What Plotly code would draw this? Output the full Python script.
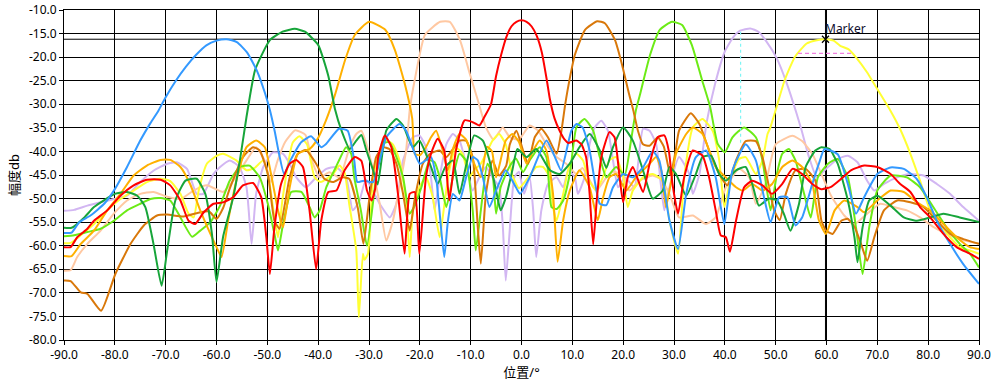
import plotly.graph_objects as go

# ---------------- data ----------------
blue_x = [-90,-88.5,-87,-84.8,-82,-80,-77.6,-75,-73,-71.4,-70,-68,-66,-64,-62,-60,-58,-56,-54,-52,-50.5,-49.5,-48.5,-47.7,-46.7,-45.5,-43.3,-41.4,-39.4,-38.5,-35.9,-34.2,-32.9,-32.3,-31,-29.2,-26.6,-24,-22.7,-20,-17.8,-16.8,-15.2,-14.5,-13.5,-12.2,-10.9,-9.6,-8.6,-7.6,-6.3,-5,-3.1,-1.1,-0.3,1.6,4.9,6.5,7.8,9.8,10.8,12,13.4,15.4,16.7,18,20,21.9,23.9,25.8,27.1,29.1,30.8,32.4,34.3,36.3,38.2,39.9,41.5,44.1,46.1,47.7,49,50.7,52.3,53.9,55.2,57.2,58.5,59.6,62.2,64.2,65.8,67.4,70,72.6,75.2,77.8,79.7,81.7,84.3,86.9,90]
blue_y = [-57.3,-57.2,-55,-53.6,-51,-48,-43.3,-37.7,-34,-31.3,-28.5,-25,-22,-19.5,-17.5,-16.5,-16.2,-16.8,-19,-23,-27.5,-31.2,-36,-40.5,-44.8,-42,-38,-36.8,-39.1,-38.5,-35.2,-35.6,-41.9,-46.5,-46.2,-46.5,-37,-34.2,-35.6,-42.6,-41.2,-45.5,-62.4,-55,-49,-50.4,-45.5,-41.2,-41.9,-45.5,-51.8,-48.3,-44,-47.6,-49,-45.5,-37.7,-41,-44,-35.6,-34.2,-34.9,-39.8,-51.1,-51.4,-47.6,-44.8,-45.5,-43.4,-39.9,-41.9,-54.6,-60.7,-49,-41.2,-39.8,-45.5,-55.4,-44,-38.5,-41.9,-49.7,-55,-49.7,-49.7,-55.7,-54,-46.9,-42.6,-39.5,-40.6,-46.9,-53.2,-49.7,-44.8,-43.4,-43.7,-45.9,-49.7,-54.7,-59.6,-63.9,-68.1]

green_x = [-90,-88.5,-86,-84.1,-80,-77.6,-75.6,-74,-72.4,-70.8,-69.7,-68.1,-66.1,-63.9,-62.2,-60.9,-60,-58.7,-56.7,-55.4,-54.1,-52.4,-49.5,-47,-44.6,-42.6,-40,-38,-36.7,-35.4,-33.8,-32.5,-31.5,-30.5,-29.2,-28.3,-26.6,-24.6,-23.3,-21.4,-20.1,-18.8,-17.8,-16.5,-15,-13.5,-12.2,-10.9,-9.3,-7.6,-6.3,-5,-4.1,-3,-1.8,-0.8,1,2.9,5.6,7.5,9.5,11.4,13.4,15.4,16.7,18,20,21.9,23.9,25.8,27.8,29.1,30.4,32.4,34.3,35.6,37.3,38.9,40.2,42.2,44.1,45.4,46.7,48.7,50.3,51.6,52.9,54.6,55.9,57.8,59,60.6,62.2,64.2,65.5,66.1,67.1,68.4,70,72.6,75.2,77.8,80.4,83,86.2,90]
green_y = [-56.2,-56.2,-54,-51.8,-49,-48.6,-49.4,-51.8,-59.6,-68.5,-61,-50.4,-46.2,-45.8,-49,-57.5,-67.7,-58.1,-49.7,-41.9,-32.7,-22.7,-16.4,-14.6,-14,-14.6,-17.4,-24,-31,-35.6,-39.5,-37.7,-36.5,-39.8,-44,-47,-35.6,-33.1,-34.5,-39.1,-37.7,-40.5,-43.3,-46.9,-43.3,-41.9,-49,-43,-36.6,-37.7,-41.9,-48.3,-52.5,-49.5,-44,-39.5,-41.2,-39.5,-44,-44.8,-42.6,-39.1,-36.3,-39.8,-43.5,-39.1,-34.9,-37.7,-44,-50,-48.3,-43.3,-44.8,-49.4,-44.8,-41.2,-40.9,-44.8,-46.2,-44,-43.3,-46.9,-51.5,-50,-50.4,-53.2,-56.8,-51.1,-43.3,-39.8,-39.1,-39.5,-42.6,-50.4,-58.2,-63.5,-56.1,-50.4,-49.4,-51.5,-54,-54.7,-54,-53.2,-54,-55]

orange_x = [-90,-88.5,-86.7,-84.1,-81.5,-78.9,-76.3,-73.7,-71,-69.1,-67.1,-65.2,-63.2,-61.2,-59.9,-59,-57.7,-56.1,-54.1,-52.2,-50.5,-48.9,-47.9,-46.9,-45.6,-44,-41.7,-40.2,-38.5,-36.7,-34.7,-32.8,-30,-26.8,-24.9,-22.9,-21.5,-21,-20,-18.8,-17.8,-16.8,-15.5,-14.5,-13.5,-12.2,-10.9,-9.3,-8,-6.8,-5.8,-5,-3.1,-1.8,-0.5,1,2.3,3.6,4.9,6.2,7.1,8.2,9.5,11.4,13.4,15,16,17.3,18.6,20.6,22.5,25.2,26.5,27.5,28.4,29.5,30.4,32.4,33.7,35.6,38.2,40.2,42.2,43.5,45.4,47.4,49.3,51.3,53.3,55.2,57.2,58.5,59.9,61.6,63.5,66.1,67.4,70,72.6,75.2,77.8,80.4,83,85.6,88.2,90]
orange_y = [-62.2,-62.2,-59.6,-56.8,-52.5,-49,-45.1,-43,-41.8,-41.8,-43.3,-46.9,-52.5,-57.5,-60.5,-62.4,-54.6,-46.2,-39.1,-37.7,-39.1,-46.9,-52.5,-56.1,-47.6,-40.5,-39.5,-37.5,-33.5,-28,-20.6,-15.3,-12.5,-14.2,-18.5,-25.9,-33,-40.5,-40.8,-39.1,-37,-35.6,-39.8,-44,-39.5,-36.3,-37.5,-42.6,-45.5,-39,-40,-45.5,-37.7,-36.3,-38,-42.6,-39.8,-37.7,-39.8,-49,-63.4,-54.6,-48.3,-44,-47.6,-54.6,-50,-45.5,-44.8,-48.3,-45.5,-42.6,-41.2,-44,-51.8,-46,-40.5,-36.3,-34.9,-36.3,-43.3,-45.5,-47.6,-48.3,-46.9,-48.3,-46.9,-43.3,-41.9,-43.3,-46.9,-54.6,-57.5,-52.5,-50.4,-51.8,-52.9,-50.4,-48.3,-48.6,-50.8,-52.5,-55.4,-58.2,-60.3,-60.7]

peach_x = [-90,-88.7,-87.4,-85.4,-82.8,-80.2,-77.6,-75,-72.4,-69.7,-67.1,-64.5,-61.9,-60.5,-58.7,-56.7,-54.1,-52.2,-50.5,-49.3,-48,-46.5,-44.5,-42.5,-41.2,-39.7,-37.8,-35.8,-33.8,-32.5,-31.5,-30.5,-29.2,-27.9,-26.6,-25.3,-24,-22.7,-22,-21,-19,-16,-14.1,-12.1,-10.1,-8.6,-7,-5.5,-3.7,-2.3,-0.5,1.6,3.2,4.9,6.9,8.8,10.8,12,14.7,16.7,18,20,21.2,23.2,25.8,27.5,29.1,31,33.7,36.3,38.2,40.2,42.8,44.8,46.1,48,50,53.3,55.2,57.2,59,60.9,63.5,65.5,68,70.6,73.2,75.8,78.4,81,83.6,86.2,90]
peach_y = [-65.3,-65.2,-62.4,-59.6,-56.8,-53.2,-50.4,-49,-48.6,-49.6,-50.1,-48.3,-47.2,-47.8,-48.6,-46.2,-41.9,-39.1,-42,-46.5,-42,-38,-35.5,-36.5,-42,-45.5,-44.4,-45.5,-39.1,-36.3,-35.6,-38.5,-44,-51.1,-58.9,-54.7,-47.6,-39.8,-31.3,-24.8,-15.3,-12.5,-12.5,-16.4,-23.8,-29.1,-34.9,-37.5,-34.9,-37,-37.5,-34.5,-35.5,-38.5,-41.2,-42.6,-44.8,-43.5,-48.3,-45.5,-44.3,-45.1,-48.3,-46.2,-45.1,-46,-49,-54,-53.6,-55.4,-54,-47.6,-43.7,-45.5,-51.1,-46.9,-38.5,-36.7,-37.8,-40.5,-44.8,-49.4,-53.6,-55.4,-53.2,-51.1,-51.8,-52.5,-54,-56,-57.5,-58.6,-59.6]

red_x = [-90,-88.7,-87.4,-85.4,-84.1,-81.5,-78.9,-76.3,-73.7,-71,-69.1,-67.1,-65.5,-64.2,-62.5,-60.6,-58.7,-56.7,-54.8,-52.8,-51.2,-50.2,-49.5,-48.6,-47.3,-45.6,-44.3,-43,-41.7,-40.4,-39.4,-38,-36.4,-34.8,-32.8,-31.5,-30.4,-29.5,-28.8,-28.2,-26.9,-25.6,-24.3,-23,-22,-21,-20.1,-18.8,-17.8,-16.5,-15.2,-14.2,-12.9,-11.2,-9.6,-8.3,-7.3,-6,-5,-4,-3,-2,-1,0,1,2,3,4,5,5.6,6.5,7.5,8.5,9.2,10.8,11.8,12.7,13.4,14.1,14.8,15.7,17.3,18.3,19.3,20,20.9,21.9,23.9,25.2,26.8,28.1,29,29.7,30.8,32,33.7,35.6,36.9,38.2,39.2,40.2,41,42.2,43.8,45.4,47.4,49.3,51.3,53.3,55.2,57.2,59,60.9,62.9,64.8,67.4,70,72.6,74.5,76.5,78.4,80.4,83,85.6,88.2,90]
red_y = [-60.3,-60.3,-58.2,-56.4,-54.7,-52.5,-49.4,-47.2,-46,-46,-47.2,-50.4,-54.7,-55.4,-52.9,-51.1,-50.8,-49.7,-47.2,-46.7,-49.7,-58.2,-66,-56.1,-46.9,-42.6,-41.8,-43.3,-52.5,-65,-54.7,-48.6,-48.3,-44,-41.2,-42,-48.3,-50.4,-48,-41.2,-36.6,-39.1,-49,-61.7,-49,-48.6,-61.7,-45.5,-40.5,-37.3,-39.8,-50.4,-39.8,-33.4,-33.8,-34.5,-32.7,-30,-24,-19.5,-15.8,-13.5,-12.5,-12.2,-12.5,-13.5,-15.5,-19,-25,-29,-33,-35.6,-37.5,-38.2,-37.7,-38.5,-41.2,-49,-59.7,-50.4,-41.2,-35.9,-37,-45.5,-50.8,-45.5,-43.3,-48.6,-42.6,-37,-36.6,-40,-46.9,-53.2,-45.5,-39.8,-40.9,-45.5,-52.5,-57.8,-58.2,-61.3,-54.7,-47.6,-46.2,-47.2,-49,-46.9,-43.7,-44.8,-46.9,-48,-47.5,-45.8,-44,-43,-43.3,-44.8,-46.9,-48.6,-51.8,-54,-57.5,-60.3,-61.7,-62.8]

brown_x = [-90,-88.7,-86.7,-85.4,-82.7,-79.9,-76.9,-74.3,-71.7,-69.7,-66.5,-63.2,-61.5,-60,-58.7,-57.4,-54.8,-52.8,-51.5,-49.9,-48.6,-47.6,-45.6,-44,-42.4,-40.4,-38.8,-37.1,-35.2,-33.9,-32.2,-31.1,-29.9,-28.6,-27.3,-26,-24.6,-23.3,-22,-21,-19.4,-18,-16.1,-14.8,-13.5,-12.2,-10.9,-9.6,-8.6,-8,-7,-5.7,-4.4,-3,-2.3,-1,0.3,1.3,2.6,3.9,5.2,6.9,7.8,8.6,9.5,10.5,12.5,14.9,16.4,18.4,19.8,21.2,22,22.9,23.9,25.2,26.8,28,29.3,30.3,31,33.3,35,36.9,38.9,40.5,42.2,44.1,46.1,47.4,48.7,49.7,50.8,52,53.9,55.9,57.8,59,59.9,61.2,62.9,64.2,65.5,66.8,68,69.4,71.3,73.9,76.5,79.1,81.7,84.3,86.9,90]
brown_y = [-67.4,-67.5,-69.9,-70.2,-73.8,-66,-59.6,-55.7,-53.6,-53.4,-53.8,-52.9,-52.7,-54.3,-52,-47.9,-41.2,-39.1,-39.8,-44.8,-54.7,-56.4,-45.5,-40.5,-39.7,-42.6,-45.8,-46.5,-45.5,-45.8,-52,-59.6,-49.7,-41.2,-39.1,-39.5,-42.6,-49,-56.8,-50,-42.6,-40.5,-39.8,-41.2,-39.5,-37.7,-37.7,-41.2,-56,-63.8,-49,-41.9,-45.1,-43,-38.5,-35.6,-39.8,-42.6,-37,-35.2,-37,-40.5,-36,-30,-24.5,-19.5,-14.2,-12.4,-12.8,-16.4,-21.7,-28,-31.3,-35.6,-38.5,-38.8,-37,-39,-45,-40,-35.6,-31.9,-34.2,-39.8,-44.8,-47.2,-41.9,-37.8,-37.8,-41.2,-47.6,-52.5,-54.6,-49,-44,-43.7,-46.2,-54.7,-56.8,-57.5,-54.7,-54.3,-56,-59.6,-63.2,-58.2,-52.5,-50.4,-50.8,-51.8,-54.7,-57.5,-58.6,-59.6]

lime_x = [-90,-88,-85.4,-82.8,-80.2,-77.6,-75,-73,-71,-69.1,-67.1,-64.8,-63.2,-61.2,-59.3,-57.4,-55.4,-53.5,-51.5,-49.9,-48.6,-47.9,-46.9,-45.3,-43.3,-41.7,-40.7,-39.7,-38.4,-36.5,-34.5,-33.5,-32.9,-31.6,-30.4,-28.6,-27.3,-26,-24.6,-23.3,-22,-21,-19.7,-18.1,-17.1,-16.1,-14.8,-13.5,-12.2,-10.9,-9.6,-9,-8,-6.7,-5.7,-5,-4.1,-2.4,-1.1,0.3,1.6,3.6,4.9,5.9,6.9,8.2,9.5,10.8,12.4,14.1,15.4,16.7,18.6,20.3,21.5,22.5,23.3,25.3,27.2,29.6,31.6,33.5,35.5,37.1,38.6,40,41.5,43.8,46.1,47.4,49,50.2,51.3,52.6,53.9,55.6,56.9,58.3,60.3,62.2,64.2,65.8,67.1,68.4,70,72.6,75.8,78.4,81,83.6,86.2,88.2,90]
lime_y = [-58,-57.8,-57.1,-56.4,-54.7,-52.5,-51.1,-50.1,-49.9,-50.4,-54,-58.1,-56.8,-55,-51.5,-46.2,-43.3,-43,-45.5,-51.1,-57.5,-61,-55.4,-48.6,-48.6,-51.8,-54,-52.5,-47.6,-43.3,-39.1,-40.5,-45.5,-52.5,-60,-45.5,-38.4,-38,-41.2,-45.5,-53.2,-51.5,-47.6,-41.9,-42.3,-45.5,-51.8,-45.5,-40.5,-42,-52.5,-61,-52.5,-42.6,-44.8,-53.2,-47.6,-43.3,-41.5,-44.4,-41.9,-39.1,-41.2,-51.8,-52.2,-50.4,-44.8,-34.9,-33.1,-35.6,-41.2,-45.5,-43.3,-45,-38,-31.3,-28,-19.5,-14.2,-12.5,-13.2,-17.4,-24.8,-30.5,-38.4,-40.2,-37,-34.9,-37,-41.9,-52.5,-45,-40.5,-39.5,-41.9,-49,-54,-45.5,-42.6,-41.6,-45.5,-56.1,-66,-56.1,-48.3,-45.1,-45.5,-47.6,-51.8,-56.1,-59.6,-61.7,-64.6]

lavender_x = [-90,-88,-85.4,-82.8,-80.2,-77.6,-75,-72.4,-69.7,-67.8,-65.8,-63.9,-62.6,-60.6,-59.3,-57.4,-55.5,-54.1,-53.1,-52.2,-50.8,-48.9,-46.9,-45.6,-44.3,-42.4,-40.4,-38.4,-36.5,-34.5,-33.2,-31.9,-30.6,-27.9,-25.9,-24.6,-23.3,-21.4,-20.1,-18.8,-17.8,-17.1,-16.1,-14.8,-13.5,-12.2,-10.9,-9.6,-8.3,-7,-5.7,-4.4,-3.7,-3.1,-2.4,-1.4,-0.5,0.5,1.6,2.3,2.9,3.9,5.2,6.9,8.2,9.2,10.5,11.1,12.4,13.4,14.4,15.7,17,18,19,20.3,22.2,23.9,25.2,26.5,27.4,28.1,29,31,33,33.7,35,36.4,38.1,40,41.7,43,45,46.6,48.2,50.2,52.2,54.1,55.1,56.5,58.1,60.3,62.2,64.2,66.1,68,69.4,71.3,73.9,76.5,79.1,81.7,84.3,86.9,90]
lavender_y = [-52.6,-52.4,-51.5,-50.8,-50.1,-49.4,-46.5,-44.1,-42.6,-42.3,-43.7,-49,-49,-44.8,-43.3,-41.9,-43.3,-47.6,-59.6,-49,-43.3,-40.2,-40.5,-42.6,-45.5,-47.6,-45.5,-43.7,-43.3,-45.5,-52.5,-50.5,-46,-51.1,-54,-51,-41.9,-37,-36.6,-39.1,-45.5,-52.5,-45.5,-38.5,-36.3,-37.7,-42.6,-48.3,-45.5,-43.3,-45.5,-47.6,-55.4,-67.4,-58,-45.5,-44.3,-49,-45.5,-52.5,-62.4,-52.5,-46.9,-45.5,-47.6,-44,-45.5,-49,-45.5,-38.5,-34.9,-33.5,-35.6,-41.9,-47.6,-45.5,-47.6,-35.2,-35.6,-38.5,-46.9,-52.5,-48,-41.2,-44.8,-49,-44.8,-34,-25.6,-18.8,-15.7,-14.4,-13.9,-14.6,-16.7,-20.2,-25.6,-31.9,-35.5,-41,-45.4,-43.3,-41.6,-40.9,-42.3,-46.2,-48.3,-46.9,-45.5,-44.8,-45.1,-46.9,-49,-51.8,-54.7]

yellow_x = [-90,-88.7,-86.7,-84.1,-81.5,-78.9,-76.3,-73.7,-71,-69.1,-67.1,-65.5,-64.5,-63.5,-61.9,-59.9,-58.7,-56.1,-54.1,-52.5,-50.8,-49.7,-48.6,-47.9,-47,-45,-43.7,-42.2,-40.7,-39.5,-37.1,-35.8,-34.8,-33.9,-32.5,-32,-31.2,-30.9,-30.2,-29.2,-27.9,-26.6,-25.3,-24,-22.7,-22,-21.4,-20.1,-18.8,-17.5,-16.1,-15.2,-14.2,-12.9,-11.6,-10.3,-9.3,-8,-7,-5.7,-4.4,-3.1,-1.8,-0.5,1,2.9,4.2,5.6,6.2,6.9,8.2,9.5,10.8,12.1,13.2,14.7,16,17.3,18.6,20,20.9,21.9,23.9,25.8,27.8,29.1,30.8,32,33.7,35.6,37.6,38.9,39.9,41.2,42.8,44.1,46.1,47.4,48.4,48.9,50.2,51.8,53.8,56.1,58.1,59.7,61.4,62.7,64.3,66,67.9,69.9,72.5,74.5,76.5,78.4,80.4,82.3,84.3,86.2,88.2,90]
yellow_y = [-59.5,-59.4,-57.8,-55.4,-52.5,-50.1,-48.3,-46.5,-45.8,-46.3,-49,-53.2,-54,-48.3,-42.6,-40.9,-40.5,-41.9,-44,-43.5,-41.9,-46,-54,-58.2,-50,-38.1,-36.8,-38.5,-45.5,-46.5,-44.8,-43,-44.5,-51.1,-61,-75.2,-61.7,-63,-61.7,-45.5,-39.8,-37.7,-38.5,-41.9,-50.4,-62.4,-53,-47.6,-45.5,-49.5,-58.2,-51.5,-44,-39.2,-40.5,-45.5,-44,-42.6,-40.5,-37.7,-36.3,-38.5,-45,-47.8,-46,-43.3,-43.3,-45.5,-51.8,-54.7,-49,-42.6,-40.5,-41.9,-46,-48.3,-45.5,-41.9,-41.2,-45.5,-51.8,-48.3,-45.5,-44.8,-46.2,-54.6,-61.7,-45.5,-34.9,-33.1,-35.6,-41.9,-51.8,-45.5,-41.6,-41.2,-44.8,-41.9,-36.3,-35.1,-30.5,-24.8,-19.9,-17.1,-16.4,-16.2,-16.5,-17.6,-18.3,-20.3,-23.1,-26.6,-31.2,-35.3,-40.5,-46.2,-52.5,-55.4,-58.2,-60.3,-61,-61.7]

# marker readout
marker_x = [59.8]
marker_y = [-16.2]
marker_label = "Marker"
half_power_x = [54.4, 65.0]
half_power_y = [-19.2, -19.2]
cursor2_x = [43.1, 43.1]
cursor2_y = [-14.6, -38.3]

x_ticks = [-90, -80, -70, -60, -50, -40, -30, -20, -10, 0, 10, 20, 30, 40, 50, 60, 70, 80, 90]
x_tick_labels = ["-90.0", "-80.0", "-70.0", "-60.0", "-50.0", "-40.0", "-30.0", "-20.0", "-10.0", "0.0",
                 "10.0", "20.0", "30.0", "40.0", "50.0", "60.0", "70.0", "80.0", "90.0"]
y_ticks = [-10, -15, -20, -25, -30, -35, -40, -45, -50, -55, -60, -65, -70, -75, -80]
y_tick_labels = ["-10.0", "-15.0", "-20.0", "-25.0", "-30.0", "-35.0", "-40.0", "-45.0", "-50.0",
                 "-55.0", "-60.0", "-65.0", "-70.0", "-75.0", "-80.0"]

x_title = "位置/°"
y_title = "幅度db"

series = [
    ("lavender", lavender_x, lavender_y, "#D2B6F2"),
    ("peach", peach_x, peach_y, "#FFC8A2"),
    ("yellow", yellow_x, yellow_y, "#FFFF33"),
    ("lime", lime_x, lime_y, "#6CEB16"),
    ("brown", brown_x, brown_y, "#D9780A"),
    ("orange", orange_x, orange_y, "#FFB000"),
    ("green", green_x, green_y, "#17A53A"),
    ("blue", blue_x, blue_y, "#3399FF"),
    ("red", red_x, red_y, "#FF0000"),
]

fig = go.Figure()

# marker cursor lines (below data)
fig.add_trace(go.Scatter(x=[-90, 90], y=[marker_y[0], marker_y[0]], mode="lines",
                         line=dict(color="black", width=1), hoverinfo="skip", showlegend=False))
fig.add_trace(go.Scatter(x=[marker_x[0], marker_x[0]], y=[-80, -10], mode="lines",
                         line=dict(color="black", width=1), hoverinfo="skip", showlegend=False))

for name, xs, ys, col in series:
    fig.add_trace(go.Scatter(x=xs, y=ys, mode="lines", name=name,
                             line=dict(color=col, width=2, shape="spline", smoothing=0.5),
                             showlegend=False))

fig.add_trace(go.Scatter(x=half_power_x, y=half_power_y, mode="lines",
                         line=dict(color="#F080E0", width=1.3, dash="4px,3px"),
                         hoverinfo="skip", showlegend=False))
fig.add_trace(go.Scatter(x=cursor2_x, y=cursor2_y, mode="lines",
                         line=dict(color="#7FF5F5", width=1.2, dash="3px,3px"),
                         hoverinfo="skip", showlegend=False))
fig.add_trace(go.Scatter(x=marker_x, y=marker_y, mode="markers",
                         marker=dict(symbol="x-thin", size=7, line=dict(color="black", width=1.2)),
                         showlegend=False))

fig.add_annotation(x=marker_x[0], y=marker_y[0], text=marker_label, showarrow=False,
                   xanchor="left", yanchor="bottom", xshift=-2, yshift=0,
                   font=dict(family="Noto Sans, Noto Sans CJK SC", size=12, color="#101030"))

font_main = "Noto Sans, Noto Sans CJK SC, sans-serif"
fig.update_layout(
    width=996, height=385,
    margin=dict(l=64, r=17, t=10, b=45),
    paper_bgcolor="white", plot_bgcolor="white",
    font=dict(family=font_main, size=12, color="#000000"),
    showlegend=False,
)
fig.update_xaxes(
    range=[-90, 90], tickmode="array", tickvals=x_ticks, ticktext=x_tick_labels,
    showgrid=True, gridcolor="black", gridwidth=1,
    showline=True, linecolor="black", linewidth=1, mirror=True,
    ticks="outside", ticklen=4, tickcolor="black", zeroline=False,
    title=dict(text=x_title, standoff=4, font=dict(size=13)),
    automargin=False,
)
fig.update_yaxes(
    range=[-80, -10], tickmode="array", tickvals=y_ticks, ticktext=y_tick_labels,
    showgrid=True, gridcolor="black", gridwidth=1,
    showline=True, linecolor="black", linewidth=1, mirror=True,
    ticks="outside", ticklen=4, tickcolor="black", zeroline=False,
    title=dict(text=y_title, standoff=6, font=dict(size=13)),
    automargin=False,
)

# remove the default 8px body margin so the figure sits at the window's top-left
fig.write_html("out.html", config={"displayModeBar": False},
               post_script="document.body.style.margin='0';")
